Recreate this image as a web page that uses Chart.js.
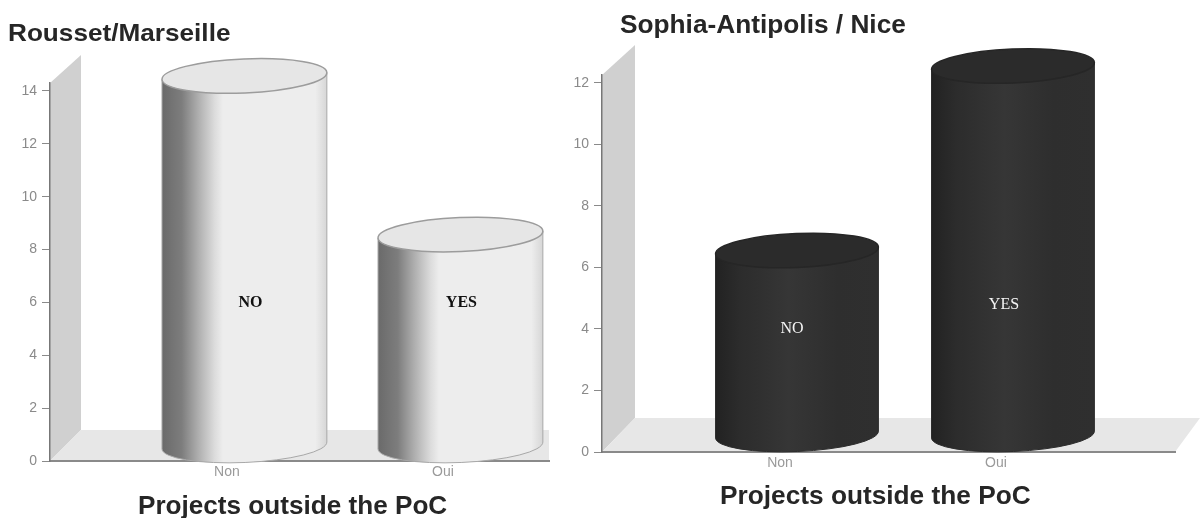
<!DOCTYPE html>
<html>
<head>
<meta charset="utf-8">
<title>Projects outside the PoC</title>
<script src="https://cdn.jsdelivr.net/npm/chart.js@4/dist/chart.umd.min.js"></script>
<style>
    html, body { margin: 0; padding: 0; background: #fff; overflow: hidden; }
    body { width: 1200px; height: 518px; position: relative; font-family: "Liberation Sans", Arial, sans-serif; }
    .box { position: absolute; top: 0; height: 518px; filter: blur(0.5px); }
    .txt { position: absolute; font-weight: bold; color: #262626; white-space: nowrap; filter: blur(0.4px); transform-origin: left center; }
</style>
</head>
<body>
<div class="box" style="left:0;width:570px"><canvas id="chartRousset"></canvas></div>
<div class="box" style="left:570px;width:630px"><canvas id="chartSophia"></canvas></div>
<div class="txt" style="left:8px;top:19px;font-size:24px;transform:scaleX(1.09)">Rousset/Marseille</div>
<div class="txt" style="left:620px;top:10px;font-size:25px;transform:scaleX(1.05)">Sophia-Antipolis / Nice</div>
<div class="txt" style="left:138px;top:491px;font-size:25px;transform:scaleX(1.045)">Projects outside the PoC</div>
<div class="txt" style="left:720px;top:481px;font-size:25px;transform:scaleX(1.05)">Projects outside the PoC</div>
<script>
// Dados
const categories = ['Non', 'Oui'];
const barTexts = ['NO', 'YES'];
const roussetValues = [14, 8];
const sophiaValues = [6, 12];
const roussetTicks = [0, 2, 4, 6, 8, 10, 12, 14];
const sophiaTicks = [0, 2, 4, 6, 8, 10, 12];
// Altura (em valor do eixo) onde fica o texto de cada barra
const roussetTextLevels = [6, 6];
const sophiaTextLevels = [4, 4.8];

// Desenha a parede e o chão em perspectiva, antes dos eixos
const stagePlugin = {
    id: 'stage',
    beforeDraw(chart, args, o) {
        const { ctx, chartArea: a } = chart;
        ctx.save();
        ctx.fillStyle = '#d0d0d0';
        ctx.beginPath();
        ctx.moveTo(a.left, a.top);
        ctx.lineTo(a.left + o.depthX, a.top - o.topRise);
        ctx.lineTo(a.left + o.depthX, a.bottom - o.depthY);
        ctx.lineTo(a.left, a.bottom);
        ctx.closePath();
        ctx.fill();
        ctx.fillStyle = '#e7e7e7';
        ctx.beginPath();
        ctx.moveTo(a.left, a.bottom);
        ctx.lineTo(a.left + o.depthX, a.bottom - o.depthY);
        ctx.lineTo(a.right + o.floorExtra, a.bottom - o.depthY);
        ctx.lineTo(a.right, a.bottom);
        ctx.closePath();
        ctx.fill();
        ctx.restore();
    }
};

// Desenha cada barra como um cilindro, a partir dos elementos do Chart.js
const cylinderPlugin = {
    id: 'cylinder',
    afterDatasetsDraw(chart, args, o) {
        const { ctx } = chart;
        const yScale = chart.scales.y;
        const tilt = Math.atan(-7 / 165);
        chart.getDatasetMeta(0).data.forEach((bar, i) => {
            const cx = bar.x + o.shift;
            const rx = bar.width / 2;
            const topY = bar.y - o.ry + o.lower;
            const baseY = bar.base - o.ry + o.lower;
            const dropY = Math.sin(tilt) * rx;

            const grad = ctx.createLinearGradient(cx - rx, 0, cx + rx, 0);
            o.stops.forEach(s => grad.addColorStop(s[0], s[1]));

            ctx.save();
            ctx.beginPath();
            ctx.moveTo(cx - rx * Math.cos(tilt), topY - dropY);
            ctx.lineTo(cx - rx * Math.cos(tilt), baseY - dropY);
            ctx.ellipse(cx, baseY, rx, o.ry, tilt, Math.PI, 0, true);
            ctx.lineTo(cx + rx * Math.cos(tilt), topY + dropY);
            ctx.closePath();
            ctx.fillStyle = grad;
            ctx.fill();
            ctx.strokeStyle = o.edge;
            ctx.lineWidth = 1;
            ctx.stroke();

            ctx.beginPath();
            ctx.ellipse(cx, topY, rx, o.ry, tilt, 0, Math.PI * 2);
            ctx.fillStyle = o.capColor;
            ctx.fill();
            ctx.strokeStyle = o.capEdge;
            ctx.lineWidth = 1.5;
            ctx.stroke();

            ctx.font = o.textFont;
            ctx.fillStyle = o.textColor;
            ctx.textAlign = 'center';
            ctx.textBaseline = 'middle';
            ctx.fillText(barTexts[i], cx + o.textShift[i], yScale.getPixelForValue(o.textLevels[i]));
            ctx.restore();
        });
    }
};

const drawChart = (id, values, yTicks, cfg) => {
    new Chart(document.getElementById(id), {
        type: 'bar',
        data: {
            datasets: [{
                data: values.map((v, i) => ({ x: i, y: v })),
                backgroundColor: 'rgba(0,0,0,0)',
                barThickness: cfg.barWidth
            }]
        },
        plugins: [stagePlugin, cylinderPlugin],
        options: {
            responsive: true,
            maintainAspectRatio: false,
            animation: false,
            layout: { padding: { top: cfg.top, right: cfg.right, left: 0, bottom: 0 } },
            plugins: {
                legend: { display: false },
                tooltip: { enabled: false },
                title: { display: false },
                stage: cfg.stage,
                cylinder: cfg.cylinder
            },
            scales: {
                x: {
                    type: 'linear',
                    offset: false,
                    min: cfg.xMin,
                    max: cfg.xMax,
                    afterBuildTicks: s => { s.ticks = categories.map((c, i) => ({ value: i })); },
                    afterFit: s => { s.height = cfg.xHeight; },
                    grid: { display: false, drawTicks: false },
                    border: { color: '#8a8a8a', width: 2 },
                    ticks: {
                        callback: v => categories[v],
                        color: '#9a9a9a',
                        font: { family: 'Liberation Sans', size: 14 },
                        padding: 3,
                        maxRotation: 0,
                        autoSkip: false
                    }
                },
                y: {
                    min: 0,
                    max: cfg.yMax,
                    afterBuildTicks: s => { s.ticks = yTicks.map(v => ({ value: v })); },
                    afterFit: s => { s.width = cfg.yWidth; },
                    grid: { drawOnChartArea: false, color: '#8a8a8a', tickLength: 8, tickColor: '#8a8a8a' },
                    border: { color: '#777', width: 1.5 },
                    ticks: {
                        color: '#8a8a8a',
                        font: { family: 'Liberation Sans', size: 14 },
                        padding: 5
                    }
                }
            }
        }
    });
};

drawChart('chartRousset', roussetValues, roussetTicks, {
    barWidth: 165, top: 83, right: 21, xHeight: 57, yWidth: 50,
    xMin: -0.819, xMax: 1.491, yMax: 14.3,
    stage: { depthX: 31, depthY: 31, topRise: 28, floorExtra: 0 },
    cylinder: {
        shift: 17.5, ry: 17, lower: 2, edge: '#a8a8a8', capColor: '#e6e6e6', capEdge: '#9c9c9c',
        stops: [[0, '#6a6a6a'], [0.12, '#7d7d7d'], [0.22, '#aeaeae'], [0.32, '#dcdcdc'], [0.37, '#ededed'], [0.93, '#ededed'], [1, '#d6d6d6']],
        textFont: 'bold 16px "Liberation Serif"', textColor: '#111',
        textLevels: roussetTextLevels, textShift: [6, 1]
    }
});

drawChart('chartSophia', sophiaValues, sophiaTicks, {
    barWidth: 163, top: 75, right: 25, xHeight: 66, yWidth: 32,
    xMin: -0.824, xMax: 1.829, yMax: 12.26,
    stage: { depthX: 33, depthY: 34, topRise: 30, floorExtra: 25 },
    cylinder: {
        shift: 17, ry: 17, lower: 0, edge: '#2c2c2c', capColor: '#2b2b2b', capEdge: '#262626',
        stops: [[0, '#222222'], [0.15, '#2c2c2c'], [0.45, '#363636'], [0.75, '#2e2e2e'], [1, '#2f2f2f']],
        textFont: '16px "Liberation Serif"', textColor: '#f5f5f5',
        textLevels: sophiaTextLevels, textShift: [-5, -9]
    }
});
</script>
</body>
</html>
